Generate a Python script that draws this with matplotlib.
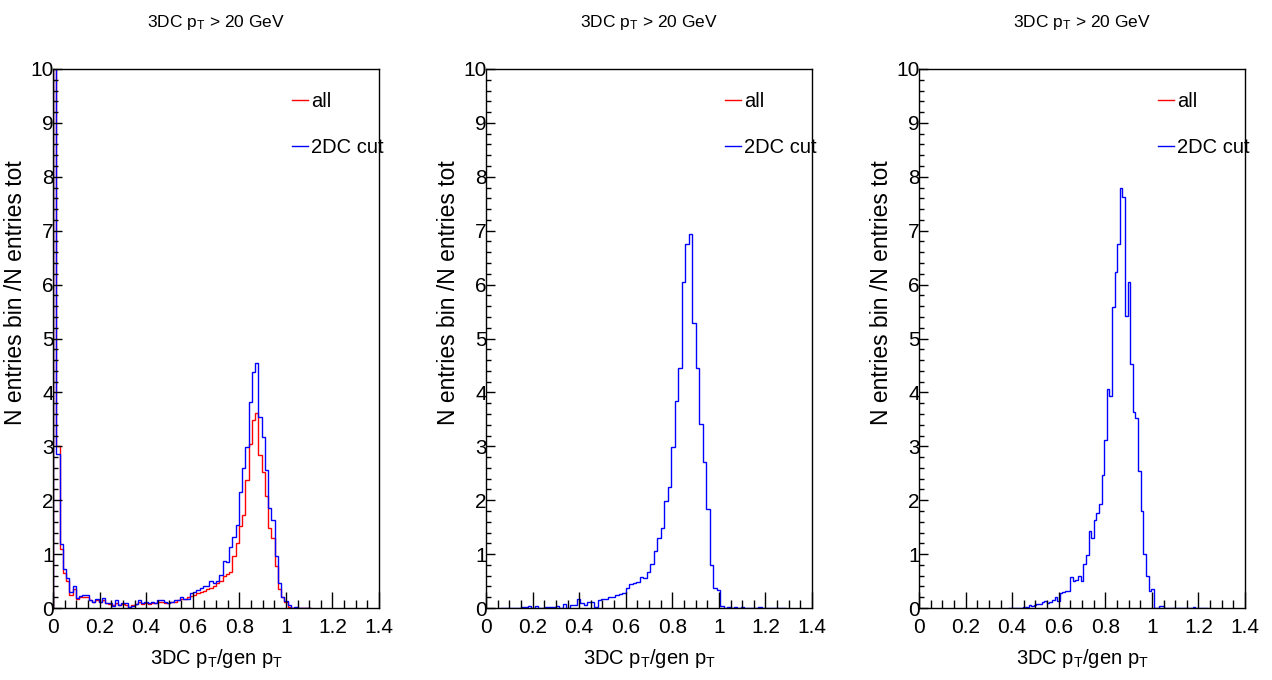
import matplotlib.pyplot as plt
import numpy as np
from matplotlib.lines import Line2D
from matplotlib.ticker import MultipleLocator, FuncFormatter

plt.rcParams['font.family'] = ['Liberation Sans', 'DejaVu Sans']
plt.rcParams['mathtext.fontset'] = 'custom'
plt.rcParams['mathtext.rm'] = 'Liberation Sans'
plt.rcParams['mathtext.it'] = 'Liberation Sans'
plt.rcParams['mathtext.bf'] = 'Liberation Sans:bold'

# ---- histogram contents (N entries bin / N entries tot) ----
# panel 1 : 0.014 wide bins starting at 0
p1_start, p1_width = 0.0, 0.014
p1_all = [10.5, 3.0, 1.1, 0.65, 0.5, 0.25, 0.36, 0.17, 0.2, 0.2,
          0.2, 0.15, 0.12, 0.14, 0.12, 0.15, 0.1, 0.08, 0.06, 0.1,
          0.05, 0.08, 0.06, 0.0, 0.05, 0.08, 0.12, 0.08, 0.1, 0.08,
          0.1, 0.1, 0.12, 0.12, 0.1, 0.1, 0.12, 0.12, 0.14, 0.17,
          0.17, 0.2, 0.22, 0.25, 0.27, 0.3, 0.31, 0.35, 0.38, 0.4,
          0.47, 0.5, 0.6, 0.64, 0.66, 0.97, 1.2, 1.52, 1.72, 2.37,
          3.05, 3.49, 3.61, 2.84, 2.53, 2.07, 1.49, 1.29, 0.77, 0.36,
          0.2, 0.12, 0.02, 0.0, 0.0, 0.0, 0.0, 0.0, 0.0]
p1_cut = [10.5, 2.86, 1.19, 0.72, 0.56, 0.29, 0.41, 0.19, 0.23, 0.25,
          0.25, 0.14, 0.12, 0.17, 0.12, 0.19, 0.1, 0.09, 0.04, 0.14,
          0.06, 0.09, 0.09, 0.02, 0.04, 0.08, 0.15, 0.09, 0.12, 0.09,
          0.12, 0.09, 0.15, 0.15, 0.12, 0.09, 0.12, 0.15, 0.15, 0.2,
          0.17, 0.17, 0.28, 0.29, 0.34, 0.38, 0.41, 0.4, 0.5, 0.46,
          0.5, 0.62, 0.87, 0.86, 1.14, 1.32, 1.54, 2.16, 2.6, 2.98,
          3.83, 4.37, 4.54, 3.54, 3.18, 2.56, 1.86, 1.63, 0.96, 0.46,
          0.21, 0.13, 0.06, 0.0, 0.01, 0.0, 0.0, 0.0, 0.0]

# panel 2 : 0.015 wide bins starting at 0.06
p2_start, p2_width = 0.06, 0.015
p2_cut = [0, 0, 0, 0, 0, 0, 0.01, 0.01, 0.04, 0.0,
          0.03, 0.0, 0.0, 0.01, 0.01, 0.01, 0.04, 0.0, 0.07, 0.0,
          0.05, 0.05, 0.17, 0.09, 0.05, 0.11, 0.11, 0.01, 0.14, 0.16,
          0.16, 0.21, 0.2, 0.24, 0.26, 0.27, 0.38, 0.44, 0.46, 0.48,
          0.57, 0.55, 0.66, 0.82, 1.05, 1.29, 1.48, 1.99, 2.24, 2.98,
          3.84, 4.46, 6.05, 6.75, 6.93, 5.28, 4.45, 3.42, 2.7, 1.83,
          0.8, 0.38, 0.33, 0.03, 0.0, 0.01, 0.0, 0.01, 0.0, 0.01,
          0.0, 0.0, 0.0, 0.0, 0.01, 0.0, 0.0, 0.0, 0.0, 0.0,
          0.0, 0.0]

# panel 3 : 0.0112 wide bins starting at 0.3808
p3_start, p3_width = 0.3808, 0.0112
p3_cut = [0, 0, 0, 0, 0, 0.0, 0.02, 0.01, 0.06, 0.03,
          0.05, 0.08, 0.08, 0.12, 0.13, 0.1, 0.12, 0.14, 0.2, 0.13,
          0.28, 0.3, 0.31, 0.32, 0.58, 0.5, 0.52, 0.6, 0.5, 0.82,
          0.98, 1.43, 1.3, 1.63, 1.76, 1.93, 2.47, 3.12, 4.06, 3.93,
          5.59, 6.24, 6.75, 7.8, 7.62, 5.42, 6.05, 4.53, 3.64, 3.52,
          2.55, 1.8, 1.01, 0.6, 0.32, 0.35, 0.0, 0.0, 0.03, 0.03,
          0.0, 0.0, 0.0, 0.0, 0.0, 0.0, 0.0, 0.0, 0.0, 0.0,
          0.0, 0.01, 0.0, 0.0, 0.0, 0.0, 0.0]

panels = [
    (p1_start, p1_width, p1_all, p1_cut),
    (p2_start, p2_width, None, p2_cut),
    (p3_start, p3_width, None, p3_cut),
]

title = '3DC p$_{\\mathrm{T}}$ > 20 GeV'
xlabel = '3DC p$_{\\mathrm{T}}$/gen p$_{\\mathrm{T}}$'
ylabel = 'N entries bin /N entries tot'

fig = plt.figure(figsize=(12.72, 6.8), dpi=100)
W, H = 1272, 680
lefts = [53, 486, 919]

for left, (start, width, h_all, h_cut) in zip(lefts, panels):
    ax = fig.add_axes([left / W, 72 / H, 326 / W, 539 / H])

    if h_all is not None:
        edges = start + width * np.arange(len(h_all) + 1)
        ax.stairs(h_all, edges, color='#ff0000', lw=1.0)
    edges = start + width * np.arange(len(h_cut) + 1)
    ax.stairs(h_cut, edges, color='#0000ff', lw=1.0)

    ax.set_xlim(0, 1.4)
    ax.set_ylim(0, 10)

    ax.xaxis.set_major_locator(MultipleLocator(0.2))
    ax.xaxis.set_minor_locator(MultipleLocator(0.05))
    ax.yaxis.set_major_locator(MultipleLocator(1))
    ax.yaxis.set_minor_locator(MultipleLocator(0.2))
    ax.xaxis.set_major_formatter(FuncFormatter(lambda v, p: f'{v:g}'))
    ax.yaxis.set_major_formatter(FuncFormatter(lambda v, p: f'{v:g}'))

    ax.tick_params(axis='x', which='major', direction='in', length=11.5,
                   width=1, labelsize=15, pad=7, top=False)
    ax.tick_params(axis='x', which='minor', direction='in', length=5.8,
                   width=1, top=False)
    ax.tick_params(axis='y', which='major', direction='in', length=6.5,
                   width=1, labelsize=15, pad=-0.5, right=False)
    ax.tick_params(axis='y', which='minor', direction='in', length=3.5,
                   width=1, right=False)
    for s in ax.spines.values():
        s.set_linewidth(1)

    ax.set_xlabel(xlabel, fontsize=14.5)
    ax.xaxis.set_label_coords(0.5, -0.073)
    ax.set_ylabel(ylabel, fontsize=16.5)
    ax.yaxis.set_label_coords(-0.08, 0.586)
    ax.set_title(title, fontsize=12.5, pad=30)

    handles = [Line2D([], [], color='#ff0000', lw=1.0),
               Line2D([], [], color='#0000ff', lw=1.0)]
    ax.legend(handles, ['all', '2DC cut'], loc='upper left',
              bbox_to_anchor=(0.733, 0.958), frameon=False, fontsize=14.5,
              handlelength=0.82, handletextpad=0.15, labelspacing=1.35,
              borderpad=0, borderaxespad=0)

fig.savefig('out.png', dpi=100)
